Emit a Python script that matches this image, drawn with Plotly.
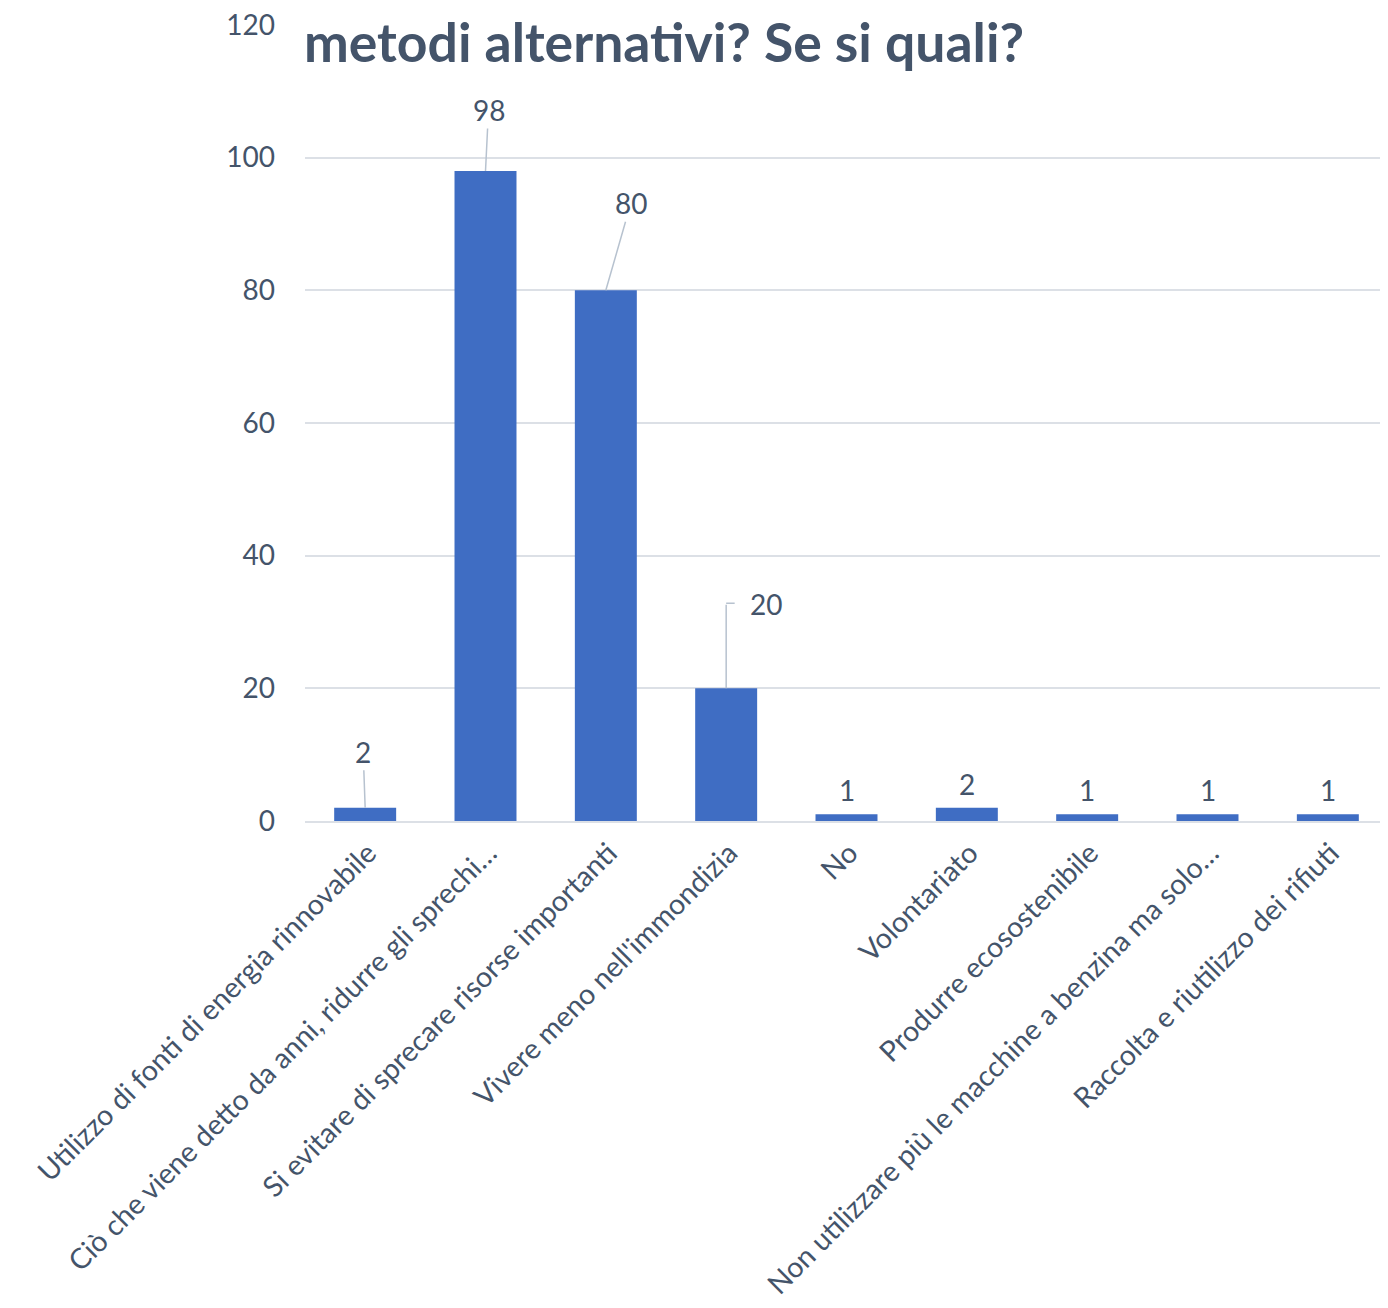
import plotly.graph_objects as go

categories = [
    "Utilizzo di fonti di energia rinnovabile",
    "Ciò che viene detto da anni, ridurre gli sprechi…",
    "Si evitare di sprecare risorse importanti",
    "Vivere meno nell'immondizia",
    "No",
    "Volontariato",
    "Produrre ecosostenibile",
    "Non utilizzare più le macchine a benzina ma solo…",
    "Raccolta e riutilizzo dei rifiuti",
]
values = [2, 98, 80, 20, 1, 2, 1, 1, 1]
title_text = "metodi alternativi? Se si quali?"
y_ticks = [0, 20, 40, 60, 80, 100, 120]

TEXT = "#44546A"
GRID = "#DCE0E6"
BAR = "#3F6DC3"
LEADER = "#B7C2CF"
FONT = "Lato, Open Sans, sans-serif"
LBL = 28

fig = go.Figure()
fig.add_trace(go.Bar(x=categories, y=values, marker=dict(color=BAR, line=dict(width=0)),
                     hoverinfo="x+y"))

# label offsets (pixels) relative to bar top: (dx, dy, leader)
label_style = {
    0: (-2, -56, "line"),
    1: (3, -61, "line"),
    2: (25, -87, "line"),
    3: (40, -84, "elbow"),
}
ann = []
for i, (c, v) in enumerate(zip(categories, values)):
    if i in label_style:
        dx, dy, kind = label_style[i]
        if kind == "line":
            ann.append(dict(x=c, y=v, text=str(v), showarrow=True, arrowhead=0,
                            arrowwidth=1.5, arrowcolor=LEADER, ax=dx, ay=dy,
                            standoff=0, font=dict(size=LBL, color=TEXT, family=FONT)))
        else:
            ann.append(dict(x=c, y=v, text="", showarrow=True, arrowhead=0,
                            arrowwidth=1.5, arrowcolor=LEADER, ax=0, ay=dy - 1,
                            standoff=0))
            ann.append(dict(x=c, y=v, yshift=-dy + 1, text="", showarrow=True, arrowhead=0,
                            arrowwidth=1.5, arrowcolor=LEADER, ax=10, ay=0,
                            standoff=0))
            ann.append(dict(x=c, y=v, yshift=-dy, xshift=dx, text=str(v), showarrow=False,
                            font=dict(size=LBL, color=TEXT, family=FONT)))
    else:
        ann.append(dict(x=c, y=v, text=str(v), showarrow=False, yanchor="bottom", yshift=5,
                        font=dict(size=LBL, color=TEXT, family=FONT)))

ann.append(dict(xref="paper", yref="paper", x=0, y=1, xanchor="left", yanchor="middle",
                yshift=-16, xshift=-3, text="<b>" + title_text + "</b>", showarrow=False,
                font=dict(size=53.5, color=TEXT, family=FONT)))

fig.update_layout(
    width=1380, height=1300,
    margin=dict(l=297, r=0, t=17, b=487, autoexpand=False),
    paper_bgcolor="white", plot_bgcolor="white",
    bargap=0.485,
    showlegend=False,
    annotations=ann,
    font=dict(family=FONT, color=TEXT),
    xaxis=dict(tickangle=-45, tickfont=dict(size=28.5, color=TEXT, family=FONT),
               showline=True, linecolor=GRID, linewidth=2, ticks="", showgrid=False,
               ticklabelstandoff=2, ticklabelshift=3, automargin=False),
    yaxis=dict(range=[0, 120], tickvals=y_ticks, tickfont=dict(size=28, color=TEXT, family=FONT),
               showgrid=True, gridcolor=GRID, gridwidth=2, zeroline=False, showline=False,
               ticks="", ticklabelstandoff=29, automargin=False, ticklabeloverflow="allow"),
)

fig.write_html("out.html")
